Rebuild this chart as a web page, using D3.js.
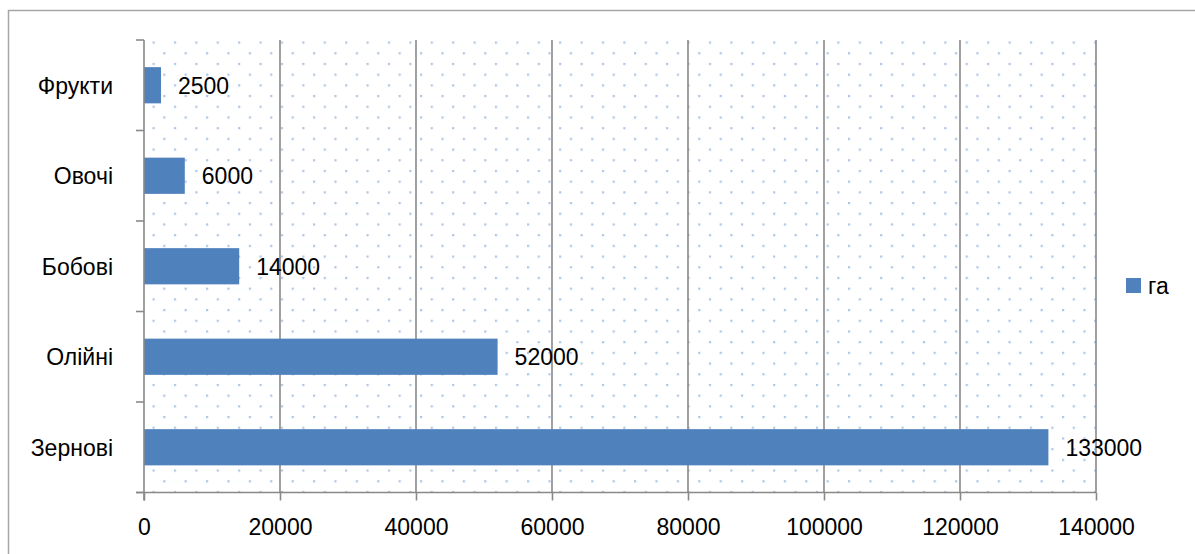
<!DOCTYPE html>
<html>
<head>
<meta charset="utf-8">
<script src="https://cdn.jsdelivr.net/npm/d3@7"></script>
<style>
  body { margin: 0; background: #fff; }
  svg text { font-family: "Liberation Sans", Arial, sans-serif; font-size: 23px; fill: #000; }
</style>
</head>
<body>
<svg id="chart"></svg>
<script>
// values
const categories = ["Фрукти", "Овочі", "Бобові", "Олійні", "Зернові"];
const hectares = [2500, 6000, 14000, 52000, 133000];
const xTicks = [0, 20000, 40000, 60000, 80000, 100000, 120000, 140000];
const seriesName = "га";

const w = 1195, h = 554;
const plotL = 144, plotR = 1096, plotT = 40, plotB = 492.5;

const svg = d3.select("#chart")
    .attr("width", w)
    .attr("height", h);

// dotted plot-area fill
const defs = svg.append("defs");
const pat = defs.append("pattern")
    .attr("id", "dots")
    .attr("patternUnits", "userSpaceOnUse")
    .attr("x", 152.5)
    .attr("y", 41.5)
    .attr("width", 21.4)
    .attr("height", 21.4);
pat.append("rect").attr("x", 0).attr("y", 0).attr("width", 2.2).attr("height", 2.2).attr("fill", "#adc6e8");
pat.append("rect").attr("x", 10.7).attr("y", 10.7).attr("width", 2.2).attr("height", 2.2).attr("fill", "#adc6e8");

// chart border (right/bottom run off the picture)
svg.append("rect")
    .attr("x", 8.5)
    .attr("y", 10.5)
    .attr("width", 1200)
    .attr("height", 560)
    .attr("fill", "none")
    .attr("stroke", "#a6a6a6")
    .attr("stroke-width", 1.5);

// Scales
const xScale = d3.scaleLinear()
    .domain([0, 140000])
    .range([plotL, plotR]);

const yScale = d3.scaleBand()
    .domain(categories)
    .range([plotT, plotB])
    .paddingInner(0.6)
    .paddingOuter(0.3);

const step = yScale.step();

svg.append("rect")
    .attr("x", plotL)
    .attr("y", plotT)
    .attr("width", plotR - plotL)
    .attr("height", plotB - plotT)
    .attr("fill", "url(#dots)");

// vertical gridlines
svg.append("g")
    .selectAll("line")
    .data(xTicks.slice(1))
    .enter()
    .append("line")
    .attr("x1", d => xScale(d))
    .attr("x2", d => xScale(d))
    .attr("y1", plotT)
    .attr("y2", plotB)
    .attr("stroke", "#898989")
    .attr("stroke-width", 1.6);

// Bars
svg.append("g")
    .selectAll("rect")
    .data(categories)
    .enter()
    .append("rect")
    .attr("x", xScale(0))
    .attr("y", d => yScale(d))
    .attr("width", (d, i) => xScale(hectares[i]) - xScale(0))
    .attr("height", yScale.bandwidth())
    .attr("fill", "#4f81bd");

// data labels
svg.append("g")
    .selectAll("text")
    .data(categories)
    .enter()
    .append("text")
    .attr("x", (d, i) => xScale(hectares[i]) + 17)
    .attr("y", d => yScale(d) + yScale.bandwidth() / 2)
    .attr("dy", "0.36em")
    .text((d, i) => hectares[i]);

// Axis
const xAxis = d3.axisBottom(xScale)
    .tickValues(xTicks)
    .tickSize(8)
    .tickPadding(18)
    .tickFormat(d3.format("d"));

const gx = svg.append("g")
    .attr("transform", `translate(0,${plotB})`)
    .call(xAxis);
gx.select(".domain").attr("d", `M${plotL - 8},0H${plotR}`);
gx.selectAll("line, .domain").attr("stroke", "#898989").attr("stroke-width", 1.6);
gx.selectAll("text").style("font-size", "23px").style("font-family", "'Liberation Sans', Arial, sans-serif");

// left axis: line plus ticks at category boundaries
const bounds = d3.range(categories.length + 1).map(i => plotT + i * step);
svg.append("line")
    .attr("x1", plotL).attr("x2", plotL)
    .attr("y1", plotT).attr("y2", plotB + 8)
    .attr("stroke", "#898989").attr("stroke-width", 1.6);
svg.append("g")
    .selectAll("line")
    .data(bounds)
    .enter()
    .append("line")
    .attr("x1", plotL - 8).attr("x2", plotL)
    .attr("y1", d => d).attr("y2", d => d)
    .attr("stroke", "#898989").attr("stroke-width", 1.6);

svg.append("g")
    .selectAll("text")
    .data(categories)
    .enter()
    .append("text")
    .attr("x", 113)
    .attr("y", d => yScale(d) + yScale.bandwidth() / 2)
    .attr("dy", "0.36em")
    .attr("text-anchor", "end")
    .text(d => d);

// Legend
const legend = svg.append("g").attr("transform", "translate(1126,278)");
legend.append("rect")
    .attr("width", 15)
    .attr("height", 15)
    .attr("fill", "#4f81bd");
legend.append("text")
    .attr("x", 22)
    .attr("y", 8)
    .attr("dy", "0.36em")
    .text(seriesName);
</script>
</body>
</html>
